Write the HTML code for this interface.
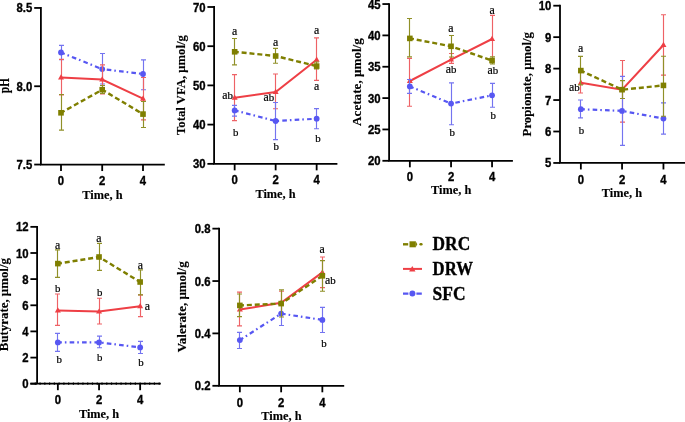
<!DOCTYPE html>
<html><head><meta charset="utf-8"><style>
html,body{margin:0;padding:0;background:#fff;width:685px;height:422px;overflow:hidden}
svg{display:block;will-change:transform;filter:blur(0.3px)}
.t{font-family:"Liberation Sans", sans-serif;font-weight:bold;font-size:12.6px;fill:#000;stroke:#000;stroke-width:0.35px}
.ti{font-family:"Liberation Serif", serif;font-weight:bold;font-size:13.2px;fill:#000;stroke:#000;stroke-width:0.15px}
.l{font-family:"Liberation Serif", serif;font-size:11.8px;fill:#000;stroke:#000;stroke-width:0.2px}
.lb{font-size:10.8px}
.lg{font-family:"Liberation Serif", serif;font-weight:bold;font-size:17.8px;fill:#000;stroke:#000;stroke-width:0.35px}
</style></head><body>
<svg width="685" height="422" viewBox="0 0 685 422">
<rect width="685" height="422" fill="#fff"/>
<path d="M61.5 45.4V59.6M59 45.4H64M59 59.6H64" stroke="#7474f0" stroke-width="1.15" fill="none"/>
<path d="M102.5 53.5V84M100 53.5H105M100 84H105" stroke="#7474f0" stroke-width="1.15" fill="none"/>
<path d="M143.5 59.9V89.7M141 59.9H146M141 89.7H146" stroke="#7474f0" stroke-width="1.15" fill="none"/>
<polyline points="61,52.5 102.2,69.1 143,74" fill="none" stroke="#5757f2" stroke-width="2.2" stroke-dasharray="4.6 3 1.6 3.2" stroke-dashoffset="0.6"/>
<circle cx="61" cy="52.5" r="2.9" fill="#5757f2"/>
<circle cx="102.2" cy="69.1" r="2.9" fill="#5757f2"/>
<circle cx="143" cy="74" r="2.9" fill="#5757f2"/>
<path d="M61.5 59.4V94.9M59 59.4H64M59 94.9H64" stroke="#ee6266" stroke-width="1.15" fill="none"/>
<path d="M102.5 64.8V94M100 64.8H105M100 94H105" stroke="#ee6266" stroke-width="1.15" fill="none"/>
<path d="M143.5 77.5V119.9M141 77.5H146M141 119.9H146" stroke="#ee6266" stroke-width="1.15" fill="none"/>
<polyline points="61,77.5 102.2,79.5 143,98.7" fill="none" stroke="#ee3f45" stroke-width="2"/>
<path d="M61 74.28 L64 79.48 L58 79.48 Z" fill="#ee3f45"/>
<path d="M102.2 76.28 L105.2 81.48 L99.2 81.48 Z" fill="#ee3f45"/>
<path d="M143 95.48 L146 100.68 L140 100.68 Z" fill="#ee3f45"/>
<path d="M61.5 94.5V130.1M59 94.5H64M59 130.1H64" stroke="#909028" stroke-width="1.15" fill="none"/>
<path d="M102.5 85.5V93.5M100 85.5H105M100 93.5H105" stroke="#909028" stroke-width="1.15" fill="none"/>
<path d="M143.5 101.5V127.5M141 101.5H146M141 127.5H146" stroke="#909028" stroke-width="1.15" fill="none"/>
<polyline points="61,112.8 102.2,89.7 143,114.1" fill="none" stroke="#7f7f00" stroke-width="2.4" stroke-dasharray="5 2.9" stroke-dashoffset="0.9"/>
<rect x="58.2" y="110" width="5.6" height="5.6" fill="#7f7f00"/>
<rect x="99.4" y="86.9" width="5.6" height="5.6" fill="#7f7f00"/>
<rect x="140.2" y="111.3" width="5.6" height="5.6" fill="#7f7f00"/>
<path d="M40.9 7.05V164.55M40 164.55H164.8" stroke="#000" stroke-width="1.8" fill="none"/>
<path d="M34.2 7.95H40.9" stroke="#000" stroke-width="1.8"/>
<text transform="translate(32.3 12.45) scale(0.9 1)" text-anchor="end" class="t">8.5</text>
<path d="M34.2 86.25H40.9" stroke="#000" stroke-width="1.8"/>
<text transform="translate(32.3 90.75) scale(0.9 1)" text-anchor="end" class="t">8.0</text>
<path d="M34.2 164.55H40.9" stroke="#000" stroke-width="1.8"/>
<text transform="translate(32.3 169.05) scale(0.9 1)" text-anchor="end" class="t">7.5</text>
<path d="M61 164.55V171.05" stroke="#000" stroke-width="1.8"/>
<text transform="translate(61 185.3) scale(0.9 1)" text-anchor="middle" class="t">0</text>
<path d="M102.2 164.55V171.05" stroke="#000" stroke-width="1.8"/>
<text transform="translate(102.2 185.3) scale(0.9 1)" text-anchor="middle" class="t">2</text>
<path d="M143 164.55V171.05" stroke="#000" stroke-width="1.8"/>
<text transform="translate(143 185.3) scale(0.9 1)" text-anchor="middle" class="t">4</text>
<text x="102.4" y="199.4" text-anchor="middle" class="ti" textLength="40.20" lengthAdjust="spacingAndGlyphs">Time, h</text>
<text transform="translate(9 85.65) rotate(-90)" text-anchor="middle" class="ti" style="font-size:14.3px" textLength="15.38" lengthAdjust="spacingAndGlyphs">pH</text>
<path d="M234.5 74.6V120.6M232 74.6H237M232 120.6H237" stroke="#ee6266" stroke-width="1.15" fill="none"/>
<path d="M275.5 74V108.7M273 74H278M273 108.7H278" stroke="#ee6266" stroke-width="1.15" fill="none"/>
<path d="M316.5 37.9V80.3M314 37.9H319M314 80.3H319" stroke="#ee6266" stroke-width="1.15" fill="none"/>
<polyline points="234.65,97.8 275.65,92 316.65,59.8" fill="none" stroke="#ee3f45" stroke-width="2"/>
<path d="M234.65 94.58 L237.65 99.78 L231.65 99.78 Z" fill="#ee3f45"/>
<path d="M275.65 88.78 L278.65 93.98 L272.65 93.98 Z" fill="#ee3f45"/>
<path d="M316.65 56.58 L319.65 61.78 L313.65 61.78 Z" fill="#ee3f45"/>
<path d="M234.5 105.3V116.1M232 105.3H237M232 116.1H237" stroke="#7474f0" stroke-width="1.15" fill="none"/>
<path d="M275.5 102.5V139.6M273 102.5H278M273 139.6H278" stroke="#7474f0" stroke-width="1.15" fill="none"/>
<path d="M316.5 108.6V128.7M314 108.6H319M314 128.7H319" stroke="#7474f0" stroke-width="1.15" fill="none"/>
<polyline points="234.65,110.4 275.65,121 316.65,118.7" fill="none" stroke="#5757f2" stroke-width="2.2" stroke-dasharray="4.6 3 1.6 3.2" stroke-dashoffset="0.6"/>
<circle cx="234.65" cy="110.4" r="2.9" fill="#5757f2"/>
<circle cx="275.65" cy="121" r="2.9" fill="#5757f2"/>
<circle cx="316.65" cy="118.7" r="2.9" fill="#5757f2"/>
<path d="M234.5 38.5V64.9M232 38.5H237M232 64.9H237" stroke="#909028" stroke-width="1.15" fill="none"/>
<path d="M275.5 48.4V63.2M273 48.4H278M273 63.2H278" stroke="#909028" stroke-width="1.15" fill="none"/>
<path d="M316.5 62V69M314 62H319M314 69H319" stroke="#909028" stroke-width="1.15" fill="none"/>
<polyline points="234.65,51.8 275.65,56 316.65,66.1" fill="none" stroke="#7f7f00" stroke-width="2.4" stroke-dasharray="5 2.9" stroke-dashoffset="0.9"/>
<rect x="231.85" y="49" width="5.6" height="5.6" fill="#7f7f00"/>
<rect x="272.85" y="53.2" width="5.6" height="5.6" fill="#7f7f00"/>
<rect x="313.85" y="63.3" width="5.6" height="5.6" fill="#7f7f00"/>
<path d="M214.1 6.1V163.85M213.2 163.85H337.4" stroke="#000" stroke-width="1.8" fill="none"/>
<path d="M207.4 7H214.1" stroke="#000" stroke-width="1.8"/>
<text transform="translate(205.5 11.5) scale(0.9 1)" text-anchor="end" class="t">70</text>
<path d="M207.4 46.2H214.1" stroke="#000" stroke-width="1.8"/>
<text transform="translate(205.5 50.7) scale(0.9 1)" text-anchor="end" class="t">60</text>
<path d="M207.4 85.4H214.1" stroke="#000" stroke-width="1.8"/>
<text transform="translate(205.5 89.9) scale(0.9 1)" text-anchor="end" class="t">50</text>
<path d="M207.4 124.6H214.1" stroke="#000" stroke-width="1.8"/>
<text transform="translate(205.5 129.1) scale(0.9 1)" text-anchor="end" class="t">40</text>
<path d="M207.4 163.85H214.1" stroke="#000" stroke-width="1.8"/>
<text transform="translate(205.5 168.35) scale(0.9 1)" text-anchor="end" class="t">30</text>
<path d="M234.65 163.85V170.35" stroke="#000" stroke-width="1.8"/>
<text transform="translate(234.65 184) scale(0.9 1)" text-anchor="middle" class="t">0</text>
<path d="M275.65 163.85V170.35" stroke="#000" stroke-width="1.8"/>
<text transform="translate(275.65 184) scale(0.9 1)" text-anchor="middle" class="t">2</text>
<path d="M316.65 163.85V170.35" stroke="#000" stroke-width="1.8"/>
<text transform="translate(316.65 184) scale(0.9 1)" text-anchor="middle" class="t">4</text>
<text x="275.5" y="198.2" text-anchor="middle" class="ti" textLength="40.20" lengthAdjust="spacingAndGlyphs">Time, h</text>
<text transform="translate(185.2 85.05) rotate(-90)" text-anchor="middle" class="ti" textLength="99.89" lengthAdjust="spacingAndGlyphs">Total VFA, μmol/g</text>
<text x="234.6" y="34.9" text-anchor="middle" class="l">a</text>
<text x="275.5" y="45.6" text-anchor="middle" class="l">a</text>
<text x="316.5" y="33.7" text-anchor="middle" class="l">a</text>
<text x="316.5" y="90.3" text-anchor="middle" class="l">a</text>
<text x="227.6" y="98.5" text-anchor="middle" class="l">a<tspan class="lb">b</tspan></text>
<text x="268.9" y="101.4" text-anchor="middle" class="l">a<tspan class="lb">b</tspan></text>
<text x="235.6" y="135.7" text-anchor="middle" class="l"><tspan class="lb">b</tspan></text>
<text x="276.1" y="150.1" text-anchor="middle" class="l"><tspan class="lb">b</tspan></text>
<text x="318" y="142.3" text-anchor="middle" class="l"><tspan class="lb">b</tspan></text>
<path d="M409.5 58.3V106.2M407 58.3H412M407 106.2H412" stroke="#ee6266" stroke-width="1.15" fill="none"/>
<path d="M451.5 53.5V63.4M449 53.5H454M449 63.4H454" stroke="#ee6266" stroke-width="1.15" fill="none"/>
<path d="M492.5 15.4V61.2M490 15.4H495M490 61.2H495" stroke="#ee6266" stroke-width="1.15" fill="none"/>
<polyline points="409.85,81 451.05,59.6 492.05,39" fill="none" stroke="#ee3f45" stroke-width="2"/>
<path d="M409.85 77.78 L412.85 82.98 L406.85 82.98 Z" fill="#ee3f45"/>
<path d="M451.05 56.38 L454.05 61.58 L448.05 61.58 Z" fill="#ee3f45"/>
<path d="M492.05 35.78 L495.05 40.98 L489.05 40.98 Z" fill="#ee3f45"/>
<path d="M409.5 79.5V93.4M407 79.5H412M407 93.4H412" stroke="#7474f0" stroke-width="1.15" fill="none"/>
<path d="M451.5 82.8V124.7M449 82.8H454M449 124.7H454" stroke="#7474f0" stroke-width="1.15" fill="none"/>
<path d="M492.5 83.4V107.2M490 83.4H495M490 107.2H495" stroke="#7474f0" stroke-width="1.15" fill="none"/>
<polyline points="409.85,86.4 451.05,103.6 492.05,95.3" fill="none" stroke="#5757f2" stroke-width="2.2" stroke-dasharray="4.6 3 1.6 3.2" stroke-dashoffset="0.6"/>
<circle cx="409.85" cy="86.4" r="2.9" fill="#5757f2"/>
<circle cx="451.05" cy="103.6" r="2.9" fill="#5757f2"/>
<circle cx="492.05" cy="95.3" r="2.9" fill="#5757f2"/>
<path d="M409.5 18.5V56.9M407 18.5H412M407 56.9H412" stroke="#909028" stroke-width="1.15" fill="none"/>
<path d="M451.5 35.5V57M449 35.5H454M449 57H454" stroke="#909028" stroke-width="1.15" fill="none"/>
<path d="M492.5 56.9V64M490 56.9H495M490 64H495" stroke="#909028" stroke-width="1.15" fill="none"/>
<polyline points="409.85,38.4 451.05,46.3 492.05,60.6" fill="none" stroke="#7f7f00" stroke-width="2.4" stroke-dasharray="5 2.9" stroke-dashoffset="0.9"/>
<rect x="407.05" y="35.6" width="5.6" height="5.6" fill="#7f7f00"/>
<rect x="448.25" y="43.5" width="5.6" height="5.6" fill="#7f7f00"/>
<rect x="489.25" y="57.8" width="5.6" height="5.6" fill="#7f7f00"/>
<path d="M389.1 3.15V160.8M388.2 160.8H512.9" stroke="#000" stroke-width="1.8" fill="none"/>
<path d="M382.4 4.05H389.1" stroke="#000" stroke-width="1.8"/>
<text transform="translate(380.5 8.55) scale(0.9 1)" text-anchor="end" class="t">45</text>
<path d="M382.4 35.4H389.1" stroke="#000" stroke-width="1.8"/>
<text transform="translate(380.5 39.9) scale(0.9 1)" text-anchor="end" class="t">40</text>
<path d="M382.4 66.75H389.1" stroke="#000" stroke-width="1.8"/>
<text transform="translate(380.5 71.25) scale(0.9 1)" text-anchor="end" class="t">35</text>
<path d="M382.4 98.1H389.1" stroke="#000" stroke-width="1.8"/>
<text transform="translate(380.5 102.6) scale(0.9 1)" text-anchor="end" class="t">30</text>
<path d="M382.4 129.45H389.1" stroke="#000" stroke-width="1.8"/>
<text transform="translate(380.5 133.95) scale(0.9 1)" text-anchor="end" class="t">25</text>
<path d="M382.4 160.8H389.1" stroke="#000" stroke-width="1.8"/>
<text transform="translate(380.5 165.3) scale(0.9 1)" text-anchor="end" class="t">20</text>
<path d="M409.85 160.8V167.3" stroke="#000" stroke-width="1.8"/>
<text transform="translate(409.85 181.2) scale(0.9 1)" text-anchor="middle" class="t">0</text>
<path d="M451.05 160.8V167.3" stroke="#000" stroke-width="1.8"/>
<text transform="translate(451.05 181.2) scale(0.9 1)" text-anchor="middle" class="t">2</text>
<path d="M492.05 160.8V167.3" stroke="#000" stroke-width="1.8"/>
<text transform="translate(492.05 181.2) scale(0.9 1)" text-anchor="middle" class="t">4</text>
<text x="451.2" y="193.9" text-anchor="middle" class="ti" textLength="40.20" lengthAdjust="spacingAndGlyphs">Time, h</text>
<text transform="translate(360.5 82.05) rotate(-90)" text-anchor="middle" class="ti" textLength="87.73" lengthAdjust="spacingAndGlyphs">Acetate, μmol/g</text>
<text x="450.8" y="32.2" text-anchor="middle" class="l">a</text>
<text x="492" y="13.7" text-anchor="middle" class="l">a</text>
<text x="451.1" y="72.9" text-anchor="middle" class="l">a<tspan class="lb">b</tspan></text>
<text x="492.8" y="74.3" text-anchor="middle" class="l">a<tspan class="lb">b</tspan></text>
<text x="452.3" y="135.8" text-anchor="middle" class="l"><tspan class="lb">b</tspan></text>
<text x="493.3" y="118.6" text-anchor="middle" class="l"><tspan class="lb">b</tspan></text>
<path d="M580.5 72V93M578 72H583M578 93H583" stroke="#ee6266" stroke-width="1.15" fill="none"/>
<path d="M622.5 60.5V122.1M620 60.5H625M620 122.1H625" stroke="#ee6266" stroke-width="1.15" fill="none"/>
<path d="M663.5 14.7V75.1M661 14.7H666M661 75.1H666" stroke="#ee6266" stroke-width="1.15" fill="none"/>
<polyline points="580.85,82.8 622.05,89.7 663.45,45" fill="none" stroke="#ee3f45" stroke-width="2"/>
<path d="M580.85 79.58 L583.85 84.78 L577.85 84.78 Z" fill="#ee3f45"/>
<path d="M622.05 86.48 L625.05 91.68 L619.05 91.68 Z" fill="#ee3f45"/>
<path d="M663.45 41.78 L666.45 46.98 L660.45 46.98 Z" fill="#ee3f45"/>
<path d="M580.5 100V117.9M578 100H583M578 117.9H583" stroke="#7474f0" stroke-width="1.15" fill="none"/>
<path d="M622.5 76.3V145.4M620 76.3H625M620 145.4H625" stroke="#7474f0" stroke-width="1.15" fill="none"/>
<path d="M663.5 102.8V134.1M661 102.8H666M661 134.1H666" stroke="#7474f0" stroke-width="1.15" fill="none"/>
<polyline points="580.85,109.2 622.05,110.9 663.45,118.6" fill="none" stroke="#5757f2" stroke-width="2.2" stroke-dasharray="4.6 3 1.6 3.2" stroke-dashoffset="0.6"/>
<circle cx="580.85" cy="109.2" r="2.9" fill="#5757f2"/>
<circle cx="622.05" cy="110.9" r="2.9" fill="#5757f2"/>
<circle cx="663.45" cy="118.6" r="2.9" fill="#5757f2"/>
<path d="M580.5 56.4V84.8M578 56.4H583M578 84.8H583" stroke="#909028" stroke-width="1.15" fill="none"/>
<path d="M622.5 80.6V98.5M620 80.6H625M620 98.5H625" stroke="#909028" stroke-width="1.15" fill="none"/>
<path d="M663.5 56.2V116.2M661 56.2H666M661 116.2H666" stroke="#909028" stroke-width="1.15" fill="none"/>
<polyline points="580.85,70.6 622.05,89.7 663.45,85.4" fill="none" stroke="#7f7f00" stroke-width="2.4" stroke-dasharray="5 2.9" stroke-dashoffset="0.9"/>
<rect x="578.05" y="67.8" width="5.6" height="5.6" fill="#7f7f00"/>
<rect x="619.25" y="86.9" width="5.6" height="5.6" fill="#7f7f00"/>
<rect x="660.65" y="82.6" width="5.6" height="5.6" fill="#7f7f00"/>
<path d="M560 4.8V162.95M559.1 162.95H685" stroke="#000" stroke-width="1.8" fill="none"/>
<path d="M553.3 5.7H560" stroke="#000" stroke-width="1.8"/>
<text transform="translate(551.4 10.2) scale(0.9 1)" text-anchor="end" class="t">10</text>
<path d="M553.3 37.15H560" stroke="#000" stroke-width="1.8"/>
<text transform="translate(551.4 41.65) scale(0.9 1)" text-anchor="end" class="t">9</text>
<path d="M553.3 68.6H560" stroke="#000" stroke-width="1.8"/>
<text transform="translate(551.4 73.1) scale(0.9 1)" text-anchor="end" class="t">8</text>
<path d="M553.3 100.05H560" stroke="#000" stroke-width="1.8"/>
<text transform="translate(551.4 104.55) scale(0.9 1)" text-anchor="end" class="t">7</text>
<path d="M553.3 131.5H560" stroke="#000" stroke-width="1.8"/>
<text transform="translate(551.4 136) scale(0.9 1)" text-anchor="end" class="t">6</text>
<path d="M553.3 162.95H560" stroke="#000" stroke-width="1.8"/>
<text transform="translate(551.4 167.45) scale(0.9 1)" text-anchor="end" class="t">5</text>
<path d="M580.85 162.95V169.45" stroke="#000" stroke-width="1.8"/>
<text transform="translate(580.85 184.1) scale(0.9 1)" text-anchor="middle" class="t">0</text>
<path d="M622.05 162.95V169.45" stroke="#000" stroke-width="1.8"/>
<text transform="translate(622.05 184.1) scale(0.9 1)" text-anchor="middle" class="t">2</text>
<path d="M663.45 162.95V169.45" stroke="#000" stroke-width="1.8"/>
<text transform="translate(663.45 184.1) scale(0.9 1)" text-anchor="middle" class="t">4</text>
<text x="621.9" y="197.3" text-anchor="middle" class="ti" textLength="40.20" lengthAdjust="spacingAndGlyphs">Time, h</text>
<text transform="translate(530.5 84.2) rotate(-90)" text-anchor="middle" class="ti" textLength="104.41" lengthAdjust="spacingAndGlyphs">Propionate, μmol/g</text>
<text x="580.7" y="52.1" text-anchor="middle" class="l">a</text>
<text x="574.3" y="91.2" text-anchor="middle" class="l">a<tspan class="lb">b</tspan></text>
<text x="581.5" y="134.2" text-anchor="middle" class="l"><tspan class="lb">b</tspan></text>
<path d="M57.5 294V325.4M55 294H60M55 325.4H60" stroke="#ee6266" stroke-width="1.15" fill="none"/>
<path d="M99.5 298.2V324M97 298.2H102M97 324H102" stroke="#ee6266" stroke-width="1.15" fill="none"/>
<path d="M140.5 294.8V316.6M138 294.8H143M138 316.6H143" stroke="#ee6266" stroke-width="1.15" fill="none"/>
<polyline points="57.85,310.5 99.05,311.6 140.15,306.2" fill="none" stroke="#ee3f45" stroke-width="2"/>
<path d="M57.85 307.28 L60.85 312.48 L54.85 312.48 Z" fill="#ee3f45"/>
<path d="M99.05 308.38 L102.05 313.58 L96.05 313.58 Z" fill="#ee3f45"/>
<path d="M140.15 302.98 L143.15 308.18 L137.15 308.18 Z" fill="#ee3f45"/>
<path d="M57.5 333.4V351.4M55 333.4H60M55 351.4H60" stroke="#7474f0" stroke-width="1.15" fill="none"/>
<path d="M99.5 336.1V347.7M97 336.1H102M97 347.7H102" stroke="#7474f0" stroke-width="1.15" fill="none"/>
<path d="M140.5 341.4V353.5M138 341.4H143M138 353.5H143" stroke="#7474f0" stroke-width="1.15" fill="none"/>
<polyline points="57.85,342.4 99.05,342.4 140.15,347.4" fill="none" stroke="#5757f2" stroke-width="2.2" stroke-dasharray="4.6 3 1.6 3.2" stroke-dashoffset="0.6"/>
<circle cx="57.85" cy="342.4" r="2.9" fill="#5757f2"/>
<circle cx="99.05" cy="342.4" r="2.9" fill="#5757f2"/>
<circle cx="140.15" cy="347.4" r="2.9" fill="#5757f2"/>
<path d="M57.5 249.9V277.3M55 249.9H60M55 277.3H60" stroke="#909028" stroke-width="1.15" fill="none"/>
<path d="M99.5 243.4V270.3M97 243.4H102M97 270.3H102" stroke="#909028" stroke-width="1.15" fill="none"/>
<path d="M140.5 269.8V294.8M138 269.8H143M138 294.8H143" stroke="#909028" stroke-width="1.15" fill="none"/>
<polyline points="57.85,263.6 99.05,257 140.15,282" fill="none" stroke="#7f7f00" stroke-width="2.4" stroke-dasharray="5 2.9" stroke-dashoffset="0.9"/>
<rect x="55.05" y="260.8" width="5.6" height="5.6" fill="#7f7f00"/>
<rect x="96.25" y="254.2" width="5.6" height="5.6" fill="#7f7f00"/>
<rect x="137.35" y="279.2" width="5.6" height="5.6" fill="#7f7f00"/>
<path d="M37.1 225.95V383.7M30.3 383.7H160.8" stroke="#000" stroke-width="1.8" fill="none"/>
<path d="M34.7 383.7H161" stroke="#000" stroke-width="2.3" stroke-dasharray="1.2 3.565"/>
<path d="M30.4 226.85H37.1" stroke="#000" stroke-width="1.8"/>
<text transform="translate(28.5 231.35) scale(0.9 1)" text-anchor="end" class="t">12</text>
<path d="M30.4 253H37.1" stroke="#000" stroke-width="1.8"/>
<text transform="translate(28.5 257.5) scale(0.9 1)" text-anchor="end" class="t">10</text>
<path d="M30.4 279.1H37.1" stroke="#000" stroke-width="1.8"/>
<text transform="translate(28.5 283.6) scale(0.9 1)" text-anchor="end" class="t">8</text>
<path d="M30.4 305.3H37.1" stroke="#000" stroke-width="1.8"/>
<text transform="translate(28.5 309.8) scale(0.9 1)" text-anchor="end" class="t">6</text>
<path d="M30.4 331.4H37.1" stroke="#000" stroke-width="1.8"/>
<text transform="translate(28.5 335.9) scale(0.9 1)" text-anchor="end" class="t">4</text>
<path d="M30.4 357.6H37.1" stroke="#000" stroke-width="1.8"/>
<text transform="translate(28.5 362.1) scale(0.9 1)" text-anchor="end" class="t">2</text>
<path d="M30.4 383.7H37.1" stroke="#000" stroke-width="1.8"/>
<text transform="translate(28.5 388.2) scale(0.9 1)" text-anchor="end" class="t">0</text>
<path d="M57.85 383.7V390.2" stroke="#000" stroke-width="1.8"/>
<text transform="translate(57.85 404.2) scale(0.9 1)" text-anchor="middle" class="t">0</text>
<path d="M99.05 383.7V390.2" stroke="#000" stroke-width="1.8"/>
<text transform="translate(99.05 404.2) scale(0.9 1)" text-anchor="middle" class="t">2</text>
<path d="M140.15 383.7V390.2" stroke="#000" stroke-width="1.8"/>
<text transform="translate(140.15 404.2) scale(0.9 1)" text-anchor="middle" class="t">4</text>
<text x="99" y="417.7" text-anchor="middle" class="ti" textLength="40.20" lengthAdjust="spacingAndGlyphs">Time, h</text>
<text transform="translate(8.4 304.65) rotate(-90)" text-anchor="middle" class="ti" textLength="93.09" lengthAdjust="spacingAndGlyphs">Butyrate, μmol/g</text>
<text x="57.6" y="248.5" text-anchor="middle" class="l">a</text>
<text x="98.9" y="242" text-anchor="middle" class="l">a</text>
<text x="140.3" y="269.3" text-anchor="middle" class="l">a</text>
<text x="57.6" y="292.3" text-anchor="middle" class="l"><tspan class="lb">b</tspan></text>
<text x="99.6" y="296.3" text-anchor="middle" class="l"><tspan class="lb">b</tspan></text>
<text x="147.3" y="310.2" text-anchor="middle" class="l">a</text>
<text x="59.2" y="363.3" text-anchor="middle" class="l"><tspan class="lb">b</tspan></text>
<text x="99.7" y="361" text-anchor="middle" class="l"><tspan class="lb">b</tspan></text>
<text x="141" y="366.2" text-anchor="middle" class="l"><tspan class="lb">b</tspan></text>
<path d="M239.5 292.1V325.8M237 292.1H242M237 325.8H242" stroke="#ee6266" stroke-width="1.15" fill="none"/>
<path d="M281.5 291.2V314M279 291.2H284M279 314H284" stroke="#ee6266" stroke-width="1.15" fill="none"/>
<path d="M322.5 257V287.6M320 257H325M320 287.6H325" stroke="#ee6266" stroke-width="1.15" fill="none"/>
<polyline points="239.85,309.6 281.15,302.8 322.35,272.4" fill="none" stroke="#ee3f45" stroke-width="2"/>
<path d="M239.85 306.38 L242.85 311.58 L236.85 311.58 Z" fill="#ee3f45"/>
<path d="M281.15 299.58 L284.15 304.78 L278.15 304.78 Z" fill="#ee3f45"/>
<path d="M322.35 269.18 L325.35 274.38 L319.35 274.38 Z" fill="#ee3f45"/>
<path d="M239.5 332.3V348.5M237 332.3H242M237 348.5H242" stroke="#7474f0" stroke-width="1.15" fill="none"/>
<path d="M281.5 301.7V325.5M279 301.7H284M279 325.5H284" stroke="#7474f0" stroke-width="1.15" fill="none"/>
<path d="M322.5 307.4V332.5M320 307.4H325M320 332.5H325" stroke="#7474f0" stroke-width="1.15" fill="none"/>
<polyline points="239.85,340.1 281.15,313.6 322.35,319.9" fill="none" stroke="#5757f2" stroke-width="2.2" stroke-dasharray="4.6 3 1.6 3.2" stroke-dashoffset="0.6"/>
<circle cx="239.85" cy="340.1" r="2.9" fill="#5757f2"/>
<circle cx="281.15" cy="313.6" r="2.9" fill="#5757f2"/>
<circle cx="322.35" cy="319.9" r="2.9" fill="#5757f2"/>
<path d="M239.5 294V316.6M237 294H242M237 316.6H242" stroke="#909028" stroke-width="1.15" fill="none"/>
<path d="M281.5 289.8V317M279 289.8H284M279 317H284" stroke="#909028" stroke-width="1.15" fill="none"/>
<path d="M322.5 260.6V291.2M320 260.6H325M320 291.2H325" stroke="#909028" stroke-width="1.15" fill="none"/>
<polyline points="239.85,305.4 281.15,303.6 322.35,275.8" fill="none" stroke="#7f7f00" stroke-width="2.4" stroke-dasharray="5 2.9" stroke-dashoffset="0.9"/>
<rect x="237.05" y="302.6" width="5.6" height="5.6" fill="#7f7f00"/>
<rect x="278.35" y="300.8" width="5.6" height="5.6" fill="#7f7f00"/>
<rect x="319.55" y="273" width="5.6" height="5.6" fill="#7f7f00"/>
<path d="M219.1 227.75V385.8M218.2 385.8H344.2" stroke="#000" stroke-width="1.8" fill="none"/>
<path d="M212.4 228.65H219.1" stroke="#000" stroke-width="1.8"/>
<text transform="translate(210.5 233.15) scale(0.9 1)" text-anchor="end" class="t">0.8</text>
<path d="M212.4 281.05H219.1" stroke="#000" stroke-width="1.8"/>
<text transform="translate(210.5 285.55) scale(0.9 1)" text-anchor="end" class="t">0.6</text>
<path d="M212.4 333.4H219.1" stroke="#000" stroke-width="1.8"/>
<text transform="translate(210.5 337.9) scale(0.9 1)" text-anchor="end" class="t">0.4</text>
<path d="M212.4 385.8H219.1" stroke="#000" stroke-width="1.8"/>
<text transform="translate(210.5 390.3) scale(0.9 1)" text-anchor="end" class="t">0.2</text>
<path d="M239.85 385.8V392.3" stroke="#000" stroke-width="1.8"/>
<text transform="translate(239.85 406.5) scale(0.9 1)" text-anchor="middle" class="t">0</text>
<path d="M281.15 385.8V392.3" stroke="#000" stroke-width="1.8"/>
<text transform="translate(281.15 406.5) scale(0.9 1)" text-anchor="middle" class="t">2</text>
<path d="M322.35 385.8V392.3" stroke="#000" stroke-width="1.8"/>
<text transform="translate(322.35 406.5) scale(0.9 1)" text-anchor="middle" class="t">4</text>
<text x="281.4" y="419.5" text-anchor="middle" class="ti" textLength="40.20" lengthAdjust="spacingAndGlyphs">Time, h</text>
<text transform="translate(186 306.85) rotate(-90)" text-anchor="middle" class="ti" textLength="90.99" lengthAdjust="spacingAndGlyphs">Valerate, μmol/g</text>
<text x="322.2" y="252.8" text-anchor="middle" class="l">a</text>
<text x="330.4" y="283.7" text-anchor="middle" class="l">a<tspan class="lb">b</tspan></text>
<text x="324" y="346.7" text-anchor="middle" class="l"><tspan class="lb">b</tspan></text>
<path d="M403 244.3H408.2" stroke="#7f7f00" stroke-width="2.4"/>
<path d="M420.6 244.3H421.4" stroke="#7f7f00" stroke-width="2.4" stroke-linecap="round"/>
<rect x="409.5" y="241.3" width="6.3" height="6.0" fill="#7f7f00"/>
<path d="M415.7 241.3L417.3 244.3L415.7 247.3Z" fill="#7f7f00"/>
<text transform="translate(432.6 250.3) scale(0.974 1)" class="lg">DRC</text>
<path d="M403 268.9H422" stroke="#ee3f45" stroke-width="2"/>
<path d="M412.3 265.9L415.5 271.6L409.1 271.6Z" fill="#ee3f45"/>
<text transform="translate(432.6 274.9) scale(0.94 1)" class="lg">DRW</text>
<path d="M403 293.6H408.4M416.4 293.6H421.8" stroke="#5757f2" stroke-width="2.3"/>
<circle cx="412.4" cy="293.6" r="3.0" fill="#5757f2"/>
<text transform="translate(432.6 299.6) scale(0.98 1)" class="lg">SFC</text>
</svg>
</body></html>
